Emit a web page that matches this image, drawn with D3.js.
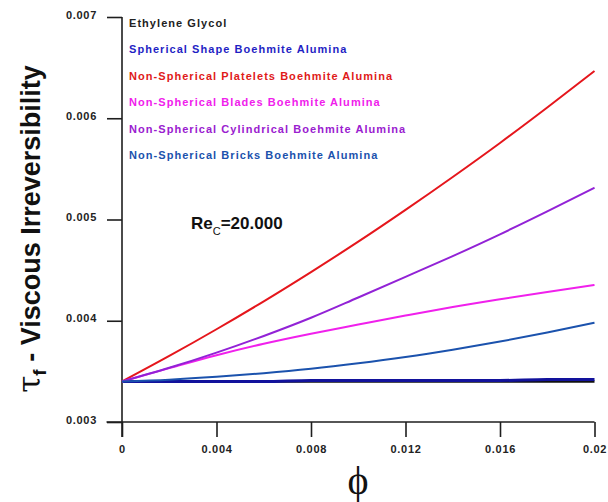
<!DOCTYPE html>
<html>
<head>
<meta charset="utf-8">
<script src="https://cdn.jsdelivr.net/npm/d3@7"></script>
<style>
  html, body { margin: 0; padding: 0; background: #fff; }
  svg { display: block; }
</style>
</head>
<body>
<svg id="chart" width="608" height="502"></svg>
<script>
// Volume fraction of nanoparticles
const phi = [0, 0.002, 0.004, 0.006, 0.008, 0.010, 0.012, 0.014, 0.016, 0.018, 0.020];

// Viscous irreversibility τf for each fluid, Re_C = 20.000
const ethyleneGlycol = [0.00340, 0.00340, 0.00340, 0.00340, 0.00340, 0.00340, 0.00340, 0.00340, 0.00340, 0.00340, 0.00340];
const spherical      = [0.00340, 0.00340, 0.00340, 0.00340, 0.00341, 0.00341, 0.00341, 0.00341, 0.00341, 0.00342, 0.00342];
const platelets      = [0.00340, 0.003652, 0.003916, 0.004192, 0.004481, 0.004781, 0.005095, 0.005420, 0.005756, 0.006106, 0.006467];
const blades         = [0.00340, 0.003532, 0.003660, 0.003773, 0.003872, 0.003962, 0.004051, 0.004136, 0.004212, 0.004285, 0.004353];
const cylindrical    = [0.00340, 0.003535, 0.003685, 0.003850, 0.004030, 0.004230, 0.004433, 0.004639, 0.004854, 0.005080, 0.005314];
const bricks         = [0.00340, 0.003418, 0.003446, 0.003482, 0.003526, 0.003580, 0.003642, 0.003714, 0.003794, 0.003883, 0.003981];

const seriesNames = [
  "Ethylene Glycol",
  "Spherical Shape Boehmite Alumina",
  "Non-Spherical Platelets Boehmite Alumina",
  "Non-Spherical Blades Boehmite Alumina",
  "Non-Spherical Cylindrical Boehmite Alumina",
  "Non-Spherical Bricks Boehmite Alumina"
];
const seriesValues = [ethyleneGlycol, spherical, platelets, blades, cylindrical, bricks];
const lineColors = ["#111111", "#12129c", "#e5161c", "#f020ec", "#9222d6", "#1b52ad"];
const textColors = ["#222222", "#1f1fc4", "#e01a1a", "#f020ec", "#9a20cf", "#1b52ad"];
const lineWidths = [2.4, 3, 2, 2, 2, 2];

const xTicks = [0, 0.004, 0.008, 0.012, 0.016, 0.02];
const xTickLabels = ["0", "0.004", "0.008", "0.012", "0.016", "0.02"];
const yTicks = [0.003, 0.004, 0.005, 0.006, 0.007];
const yTickLabels = ["0.003", "0.004", "0.005", "0.006", "0.007"];

const svg = d3.select("#chart");
const x = d3.scaleLinear().domain([0, 0.02]).range([122, 594.5]);
const y = d3.scaleLinear().domain([0.003, 0.007]).range([422, 17]);

const axisColor = "#1e1e1e";
const fontFam = "Arial, 'Liberation Sans', Helvetica, sans-serif";

// X axis with major and minor ticks
const xMinor = d3.range(0.002, 0.02, 0.004);
const gx = svg.append("g").attr("transform", `translate(0,${y(0.003)})`);
gx.call(d3.axisBottom(x).tickValues(xMinor).tickSize(7).tickFormat(""));
gx.call(d3.axisBottom(x).tickValues(xTicks).tickSize(15)
  .tickFormat((d, i) => xTickLabels[i]));
gx.select(".domain").remove();
gx.append("line").attr("x1", 106.5).attr("x2", x(0.02)).attr("y1", 0).attr("y2", 0);
gx.selectAll("line").attr("stroke", axisColor).attr("stroke-width", 1.6);
gx.selectAll("text")
  .attr("y", 23)
  .attr("fill", "#222")
  .style("font-family", fontFam)
  .style("font-size", "11px")
  .style("font-weight", "bold")
  .style("letter-spacing", "0.7px");

// Y axis with major and minor ticks
const yMinor = d3.range(0.0035, 0.007, 0.001);
const gy = svg.append("g").attr("transform", `translate(${x(0)},0)`);
gy.call(d3.axisLeft(y).tickValues(yMinor).tickSize(8).tickFormat(""));
gy.call(d3.axisLeft(y).tickValues(yTicks).tickSize(15)
  .tickFormat((d, i) => yTickLabels[i]));
gy.select(".domain").remove();
gy.append("line").attr("x1", 0).attr("x2", 0).attr("y1", y(0.007)).attr("y2", y(0.003) + 15);
gy.selectAll("line").attr("stroke", axisColor).attr("stroke-width", 1.6);
gy.selectAll("text")
  .attr("x", -25)
  .attr("dy", "0.1em")
  .attr("fill", "#222")
  .style("font-family", fontFam)
  .style("font-size", "11px")
  .style("font-weight", "bold")
  .style("letter-spacing", "0.7px");

// Curves
const line = d3.line().x((d, i) => x(phi[i])).y(d => y(d)).curve(d3.curveMonotoneX);
svg.append("g").selectAll("path")
  .data(seriesValues)
  .join("path")
  .attr("d", d => line(d))
  .attr("fill", "none")
  .attr("stroke", (d, i) => lineColors[i])
  .attr("stroke-width", (d, i) => lineWidths[i])
  .attr("stroke-linejoin", "round");

// Legend (text only)
svg.append("g").selectAll("text")
  .data(seriesNames)
  .join("text")
  .attr("x", 129)
  .attr("y", (d, i) => 27 + i * 26.4)
  .attr("fill", (d, i) => textColors[i])
  .style("font-family", fontFam)
  .style("font-size", "11px")
  .style("font-weight", "bold")
  .style("letter-spacing", "1.05px")
  .text(d => d);

// Reynolds number annotation
const re = svg.append("text")
  .attr("x", 191).attr("y", 229)
  .attr("fill", "#111")
  .style("font-family", fontFam)
  .style("font-size", "17px")
  .style("font-weight", "bold");
re.append("tspan").text("Re");
re.append("tspan").attr("dy", 6).style("font-size", "11px").style("font-weight", "normal").text("C");
re.append("tspan").attr("dy", -6).text("=20.000");

// Axis titles
const yt = svg.append("text")
  .attr("transform", "translate(40,229) rotate(-90)")
  .attr("text-anchor", "middle")
  .attr("fill", "#111")
  .style("font-family", fontFam)
  .style("font-size", "27px")
  .style("font-weight", "bold");
yt.append("tspan").style("font-family", "'DejaVu Serif', serif").style("font-weight", "normal").style("font-size", "31px").text("τ");
yt.append("tspan").attr("dy", 6).style("font-size", "19px").text("f");
yt.append("tspan").attr("dy", -6).text(" - Viscous Irreversibility");

svg.append("text")
  .attr("x", 358).attr("y", 494)
  .attr("text-anchor", "middle")
  .attr("fill", "#111")
  .style("font-family", "'Liberation Serif', 'Times New Roman', serif")
  .style("font-size", "40px")
  .text("ϕ");
</script>
</body>
</html>
